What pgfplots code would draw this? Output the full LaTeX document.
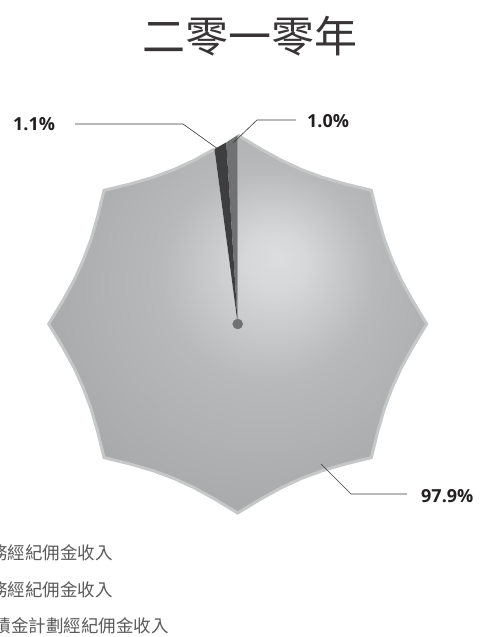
\documentclass[border=0pt]{standalone}
\usepackage{fontspec}
\usepackage{pgfplots}
\pgfplotsset{compat=1.18}
\usepgfplotslibrary{polar}
\setmainfont{Open Sans}
\newfontfamily\cjk{Noto Sans CJK TC}
\definecolor{starC}{HTML}{DCDDDF}
\definecolor{starA}{HTML}{D6D7D9}
\definecolor{starM}{HTML}{B8B9BB}
\definecolor{starE}{HTML}{9FA0A2}
\definecolor{starLine}{HTML}{C6C7C9}
\definecolor{wedgeM}{HTML}{707173}
\definecolor{wedgeD}{HTML}{3E3E40}
\definecolor{leader}{HTML}{3A3A3A}
\definecolor{legtxt}{HTML}{5A5A5A}
\definecolor{labtxt}{HTML}{231F20}
\pgfdeclareradialshading{starshade}{\pgfpoint{5.5bp}{9bp}}{color(0bp)=(starC); color(4bp)=(starA); color(14bp)=(starM); color(38bp)=(starE); color(50bp)=(starE)}
\begin{document}
\begin{tikzpicture}
\begin{axis}[
  hide axis, clip=false,
  x=189pt, y=189pt,
  xmin=-1.1, xmax=1.1, ymin=-1.1, ymax=1.1,
  anchor=origin, at={(237.7pt,-324pt)},
]
% 97.9% slice
\addplot[draw=none, shade, shading=starshade, data cs=polar] coordinates {
(0,0) (97.56,0.934) (105,0.896) (112.5,0.884) (120,0.896) (127.5,0.934)
(135,1) (142.5,0.934) (150,0.896) (157.5,0.884) (165,0.896) (172.5,0.934)
(180,1) (187.5,0.934) (195,0.896) (202.5,0.884) (210,0.896) (217.5,0.934)
(225,1) (232.5,0.934) (240,0.896) (247.5,0.884) (255,0.896) (262.5,0.934)
(270,1) (277.5,0.934) (285,0.896) (292.5,0.884) (300,0.896) (307.5,0.934)
(315,1) (322.5,0.934) (330,0.896) (337.5,0.884) (345,0.896) (352.5,0.934)
(360,1) (367.5,0.934) (375,0.896) (382.5,0.884) (390,0.896) (397.5,0.934)
(405,1) (412.5,0.934) (420,0.896) (427.5,0.884) (435,0.896) (442.5,0.934)
(450,1) (450,0)};
\addplot[draw=starLine, line width=3pt, line join=miter, no marks, data cs=polar] coordinates {
(97.56,0.934) (105,0.896) (112.5,0.884) (120,0.896) (127.5,0.934)
(135,1) (142.5,0.934) (150,0.896) (157.5,0.884) (165,0.896) (172.5,0.934)
(180,1) (187.5,0.934) (195,0.896) (202.5,0.884) (210,0.896) (217.5,0.934)
(225,1) (232.5,0.934) (240,0.896) (247.5,0.884) (255,0.896) (262.5,0.934)
(270,1) (277.5,0.934) (285,0.896) (292.5,0.884) (300,0.896) (307.5,0.934)
(315,1) (322.5,0.934) (330,0.896) (337.5,0.884) (345,0.896) (352.5,0.934)
(360,1) (367.5,0.934) (375,0.896) (382.5,0.884) (390,0.896) (397.5,0.934)
(405,1) (412.5,0.934) (420,0.896) (427.5,0.884) (435,0.896) (442.5,0.934)
(450,1)};
% 1.0% slice
\addplot[fill=wedgeM, draw=none, data cs=polar] coordinates {(0,0) (90,1) (93.6,0.963)};
% 1.1% slice
\addplot[fill=wedgeD, draw=none, data cs=polar] coordinates {(0,0) (93.6,0.963) (97.56,0.934)};
% centre dot
\addplot[only marks, mark=*, mark size=5pt, color=wedgeM] coordinates {(0,0)};
\end{axis}
% title
\node[text=labtxt!90, inner sep=0pt] at (250pt,-36pt) {\cjk\fontsize{43}{46}\selectfont 二零一零年};
% leader lines
\draw[leader, line width=0.6pt] (75pt,-124pt) -- (183pt,-124pt) -- (218pt,-149pt);
\draw[leader, line width=0.6pt] (296pt,-120pt) -- (257pt,-120pt) -- (233pt,-143pt);
\draw[leader, line width=0.6pt] (407pt,-494pt) -- (351pt,-494pt) -- (321pt,-464pt);
% labels
\node[text=labtxt, font=\bfseries\fontsize{18}{20}\selectfont, anchor=west, inner sep=0pt] at (13pt,-124pt) {1.1\%};
\node[text=labtxt, font=\bfseries\fontsize{18}{20}\selectfont, anchor=west, inner sep=0pt] at (307pt,-121pt) {1.0\%};
\node[text=labtxt, font=\bfseries\fontsize{18}{20}\selectfont, anchor=west, inner sep=0pt] at (421pt,-496pt) {97.9\%};
% legend (cut off at the left edge as in the original)
\node[text=legtxt, anchor=east, inner sep=0pt] at (113pt,-553pt) {\cjk\fontsize{17.5}{20}\selectfont 一般保險業務經紀佣金收入};
\node[text=legtxt, anchor=east, inner sep=0pt] at (113pt,-590pt) {\cjk\fontsize{17.5}{20}\selectfont 長期保險業務經紀佣金收入};
\node[text=legtxt, anchor=east, inner sep=0pt] at (169pt,-626pt) {\cjk\fontsize{17.5}{20}\selectfont 強制性公積金計劃經紀佣金收入};
\pgfresetboundingbox
\useasboundingbox (0pt,0pt) rectangle (481pt,-637pt);
\end{tikzpicture}
\end{document}
